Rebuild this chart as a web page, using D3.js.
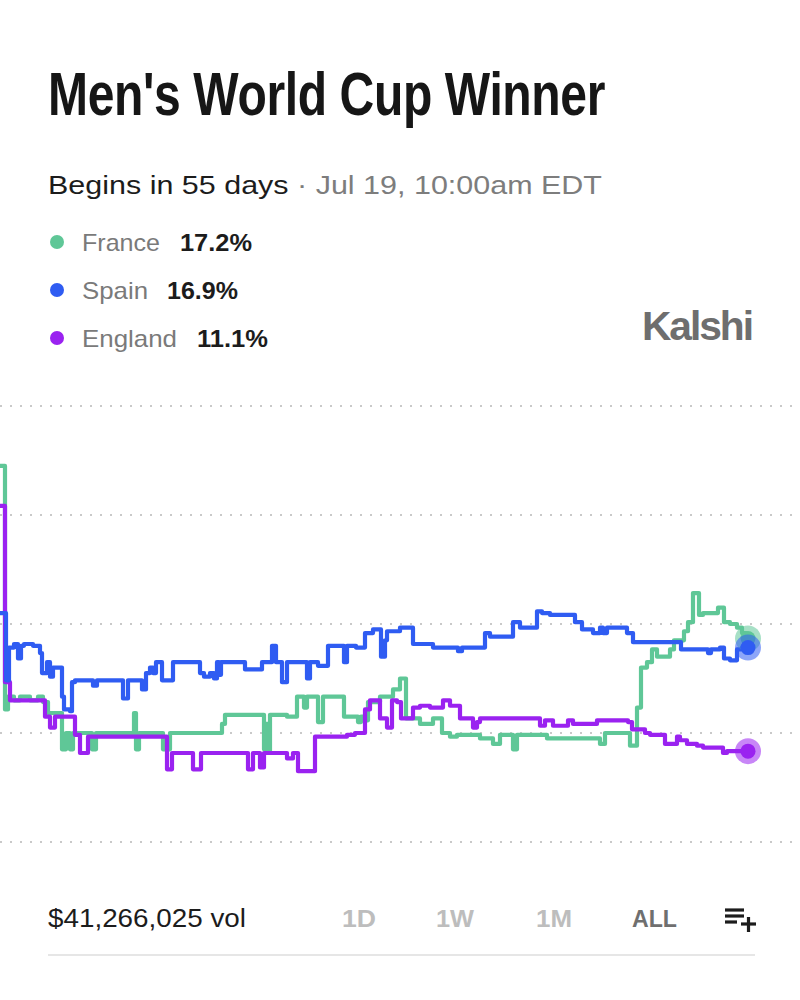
<!DOCTYPE html>
<html><head><meta charset="utf-8">
<script src="https://cdn.jsdelivr.net/npm/d3@7"></script>
<style>
html,body{margin:0;padding:0;background:#fff;}
svg{display:block;}
</style></head>
<body>
<svg id="chart" width="800" height="1000"></svg>
<script>
// ---------- DATA ----------
const titleText = "Men's World Cup Winner";
const subtitleMain = "Begins in 55 days";
const subtitleDate = " · Jul 19, 10:00am EDT";
const teams = ["France", "Spain", "England"];
const teamColors = ["#5fc797", "#2f5cf2", "#9a22f0"];
const lastValues = ["17.2%", "16.9%", "11.1%"];
const volumeText = "$41,266,025 vol";
const rangeButtons = ["1D", "1W", "1M", "ALL"];
const activeRange = "ALL";
const gridValues = [6, 12, 18, 24, 30];

// [time step, probability %]
const franceSeries = [[0,26.7],[5,13.3],[8,14.0],[14,13.8],[20,14.0],[30,13.8],[38,14.0],[43,13.7],[48,13.1],[60,13.1],[62,11.1],[66,12.0],[70,11.1],[73,12.0],[88,12.0],[92,11.1],[96,12.0],[133,12.0],[134,13.1],[136,11.1],[139,12.0],[160,12.0],[163,11.1],[170,12.0],[222,12.5],[225,13.0],[263,13.0],[264,11.1],[266,12.5],[268,11.0],[270,13.0],[287,12.9],[297,14.0],[304,13.4],[307,14.0],[318,12.6],[323,14.0],[344,12.9],[358,12.6],[361,12.9],[365,12.7],[368,13.7],[380,14.0],[393,14.4],[400,15.0],[406,12.8],[420,12.5],[433,12.8],[442,12.0],[450,11.8],[457,11.9],[480,11.7],[493,11.4],[500,11.9],[513,11.1],[517,11.9],[547,11.7],[600,11.4],[605,12.0],[630,11.3],[637,13.4],[641,15.6],[647,15.9],[652,16.6],[657,16.2],[670,16.6],[674,17.1],[684,17.6],[688,18.1],[693,19.7],[699,18.5],[703,18.6],[718,18.9],[724,18.1],[730,18.0],[737,17.8],[742,17.5],[746,17.2],[748,17.2]];
const spainSeries = [[0,18.6],[5,18.6],[6,14.9],[9,16.7],[14,16.9],[18,16.1],[21,16.8],[24,16.9],[33,16.8],[40,16.4],[42,15.3],[47,15.9],[50,15.1],[53,15.6],[62,14.0],[64,13.3],[70,13.2],[72,14.8],[75,14.9],[93,14.6],[97,14.9],[123,13.9],[128,14.9],[142,14.4],[146,15.3],[150,15.6],[153,15.3],[156,15.9],[162,14.9],[173,15.9],[200,15.3],[204,15.1],[210,15.3],[214,15.0],[217,15.9],[219,15.2],[221,15.9],[245,15.5],[262,15.9],[272,16.8],[276,15.9],[282,14.8],[287,15.9],[307,15.0],[310,15.9],[318,15.7],[328,16.8],[344,15.9],[347,16.8],[356,16.7],[365,17.5],[373,17.7],[381,16.2],[385,17.1],[387,17.6],[400,17.8],[413,16.9],[433,16.7],[458,16.5],[462,16.7],[485,17.5],[490,17.3],[513,18.1],[520,17.8],[537,18.7],[542,18.6],[550,18.5],[575,18.1],[582,17.7],[593,17.5],[600,17.8],[603,17.5],[607,17.8],[627,17.5],[633,17.0],[681,16.6],[708,16.4],[711,16.6],[720,16.7],[724,16.1],[730,16.0],[737,16.6],[742,16.7],[748,16.7]];
const englandSeries = [[0,24.5],[4,24.5],[5,14.8],[10,13.8],[45,12.9],[50,12.3],[55,12.9],[75,11.9],[80,10.9],[88,11.8],[167,10.0],[172,10.9],[193,10.0],[201,10.9],[248,10.0],[253,10.9],[260,10.1],[264,10.9],[287,10.6],[293,10.9],[298,9.9],[315,11.8],[347,11.9],[355,12.0],[365,13.3],[370,13.8],[380,12.8],[387,12.3],[392,13.8],[397,13.7],[401,12.8],[413,13.4],[420,13.5],[430,13.4],[443,13.8],[450,13.5],[460,12.8],[473,12.3],[477,12.6],[480,12.8],[540,12.4],[545,12.7],[553,12.4],[568,12.7],[573,12.5],[597,12.7],[628,12.6],[632,12.2],[645,12.0],[650,11.9],[665,11.4],[677,11.8],[680,11.6],[687,11.4],[697,11.3],[703,11.2],[723,10.9],[727,11.0],[748,11.0]];
const seriesList = [franceSeries, spainSeries, englandSeries];

// ---------- DRAW ----------
const svg = d3.select("#chart");
const SANS = "'Liberation Sans', Arial, Helvetica, sans-serif";

function fitWidth(sel, w) {
  const cur = sel.node().getComputedTextLength();
  if (cur > 0) sel.attr("textLength", w).attr("lengthAdjust", "spacingAndGlyphs");
}

// Title (condensed by horizontal scaling)
const titleG = svg.append("g");
const title = titleG.append("text").attr("x", 0).attr("y", 0)
  .attr("font-family", SANS)
  .attr("font-weight", 700).attr("font-size", 62).attr("fill", "#161616")
  .attr("letter-spacing", -0.5)
  .text(titleText);
{
  const w = title.node().getComputedTextLength() || 557;
  titleG.attr("transform", `translate(48,115) scale(${557 / w},1)`);
}

// Subtitle
const sub = svg.append("text").attr("x", 48).attr("y", 194)
  .attr("font-family", SANS).attr("font-size", 26);
sub.append("tspan").attr("fill", "#1c1c1c").text(subtitleMain);
sub.append("tspan").attr("fill", "#7d7d7d").text(subtitleDate);
fitWidth(sub, 554);

// Legend
const legendY = [251, 299, 347];
const labelW = [78, 66, 95];
const valX = [180, 167, 197];
const valW = [72, 71, 71];
teams.forEach((t, i) => {
  svg.append("circle").attr("cx", 57).attr("cy", legendY[i] - 9).attr("r", 7).attr("fill", teamColors[i]);
  const l = svg.append("text").attr("x", 82).attr("y", legendY[i])
    .attr("font-family", SANS).attr("font-size", 24).attr("fill", "#7a7a7a").text(t);
  fitWidth(l, labelW[i]);
  const v = svg.append("text").attr("x", valX[i]).attr("y", legendY[i])
    .attr("font-family", SANS).attr("font-size", 24).attr("font-weight", 700).attr("fill", "#1c1c1c").text(lastValues[i]);
  fitWidth(v, valW[i]);
});

// Kalshi logo
const logo = svg.append("text").attr("x", 642).attr("y", 340)
  .attr("font-family", SANS).attr("font-weight", 700).attr("font-size", 40)
  .attr("fill", "#6e6e6e").attr("letter-spacing", -2).text("Kalshi");
fitWidth(logo, 110);

// Scales
const x = d3.scaleLinear().domain([0, 748]).range([0, 748]);
const y = d3.scaleLinear().domain([0, 30]).range([951, 406]);

// Gridlines
svg.append("g").selectAll("line").data(gridValues).join("line")
  .attr("x1", 0).attr("x2", 800)
  .attr("y1", d => y(d)).attr("y2", d => y(d))
  .attr("stroke", "#c9c9c9").attr("stroke-width", 2)
  .attr("stroke-dasharray", "2 8");

// Lines
const line = d3.line().x(d => x(d[0])).y(d => y(d[1])).curve(d3.curveStepAfter);
const order = [0, 2, 1];
order.forEach(i => {
  svg.append("path").datum(seriesList[i])
    .attr("d", line).attr("fill", "none")
    .attr("stroke", teamColors[i]).attr("stroke-width", 4.2)
    .attr("stroke-linejoin", "round").attr("stroke-linecap", "round");
});

// End dots
[0, 1, 2].forEach(i => {
  const last = seriesList[i][seriesList[i].length - 1];
  svg.append("circle").attr("cx", x(last[0])).attr("cy", y(last[1])).attr("r", 13)
    .attr("fill", teamColors[i]).attr("opacity", 0.55);
  svg.append("circle").attr("cx", x(last[0])).attr("cy", y(last[1])).attr("r", 7.5)
    .attr("fill", teamColors[i]);
});

// Bottom bar
const vol = svg.append("text").attr("x", 48).attr("y", 927)
  .attr("font-family", SANS).attr("font-size", 25).attr("fill", "#1c1c1c").text(volumeText);
fitWidth(vol, 198);

const btnX = [342, 436, 536, 632];
const btnW = [34, 38, 36, 45];
rangeButtons.forEach((b, i) => {
  const t = svg.append("text").attr("x", btnX[i]).attr("y", 927)
    .attr("font-family", SANS).attr("font-size", 23).attr("font-weight", 700)
    .attr("fill", b === activeRange ? "#6f6f6f" : "#bdbdbd").text(b);
  fitWidth(t, btnW[i]);
});

// list-plus icon
const icon = svg.append("g").attr("stroke", "#1c1c1c").attr("stroke-width", 3.2).attr("fill", "none");
icon.append("line").attr("x1", 725).attr("x2", 744).attr("y1", 910).attr("y2", 910);
icon.append("line").attr("x1", 725).attr("x2", 744).attr("y1", 916).attr("y2", 916);
icon.append("line").attr("x1", 725).attr("x2", 737).attr("y1", 922).attr("y2", 922);
icon.append("line").attr("x1", 741).attr("x2", 756).attr("y1", 924).attr("y2", 924);
icon.append("line").attr("x1", 748.5).attr("x2", 748.5).attr("y1", 917).attr("y2", 932);

svg.append("line").attr("x1", 48).attr("x2", 755).attr("y1", 955).attr("y2", 955)
  .attr("stroke", "#e6e6e6").attr("stroke-width", 2);
</script>
</body></html>
